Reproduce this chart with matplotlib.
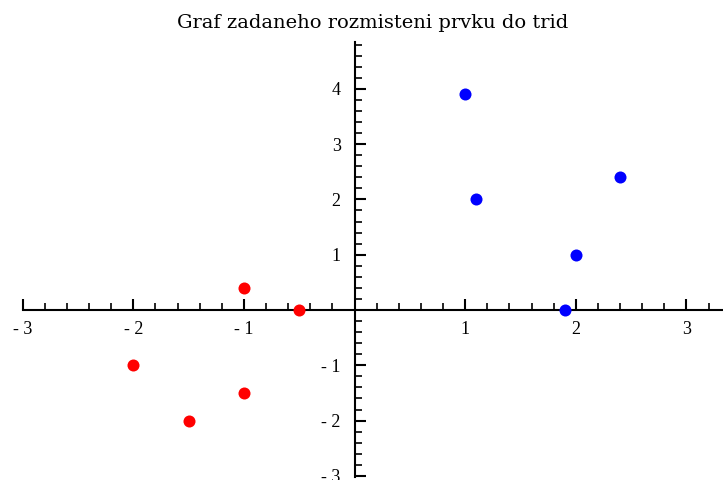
import numpy as np
import matplotlib.pyplot as plt
from matplotlib.ticker import MultipleLocator, FixedLocator

# body tridy 1 (modre) a tridy 2 (cervene)
blue_x = [1.0, 1.1, 2.4, 2.0, 1.9]
blue_y = [3.9, 2.0, 2.4, 1.0, 0.0]
red_x = [-1.0, -0.5, -2.0, -1.0, -1.5]
red_y = [0.4, 0.0, -1.0, -1.5, -2.0]

x_ticks = [-3, -2, -1, 1, 2, 3]
y_ticks = [-3, -2, -1, 1, 2, 3, 4]

plt.rcParams['font.family'] = ['Liberation Serif', 'DejaVu Serif']


def label(v):
    # popisky ve stylu "- 1"
    return '- %d' % abs(v) if v < 0 else str(v)


fig = plt.figure(figsize=(7.23, 4.8), dpi=100)
ax = fig.add_axes([22.7 / 723, 3 / 480, 700.3 / 723, 435.2 / 480])

ax.scatter(blue_x, blue_y, s=75, color='#0000ff', zorder=3, linewidths=0)
ax.scatter(red_x, red_y, s=75, color='#ff0000', zorder=3, linewidths=0)

ax.set_xlim(-3, 3.33)
ax.set_ylim(-3.02, 4.85)

# osy prochazi pocatkem
for s in ['top', 'right']:
    ax.spines[s].set_visible(False)
ax.spines['left'].set_position(('data', 0))
ax.spines['bottom'].set_position(('data', 0))
ax.spines['left'].set_linewidth(1.5)
ax.spines['bottom'].set_linewidth(1.5)

ax.xaxis.set_major_locator(FixedLocator(x_ticks))
ax.yaxis.set_major_locator(FixedLocator(y_ticks))
ax.xaxis.set_minor_locator(MultipleLocator(0.2))
ax.yaxis.set_minor_locator(MultipleLocator(0.2))
ax.set_xticklabels([label(v) for v in x_ticks])
ax.set_yticklabels([label(v) for v in y_ticks])

ax.tick_params(which='major', direction='in', length=8, width=1.5, labelsize=13, pad=8)
ax.tick_params(which='minor', direction='in', length=5, width=1.2)
ax.tick_params(axis='y', pad=10)

fig.text(373 / 723, 1 - 23 / 480, 'Graf zadaneho rozmisteni prvku do trid',
         ha='center', va='center', fontsize=14, family='DejaVu Serif')

fig.savefig('out.png', dpi=100, facecolor='white')
